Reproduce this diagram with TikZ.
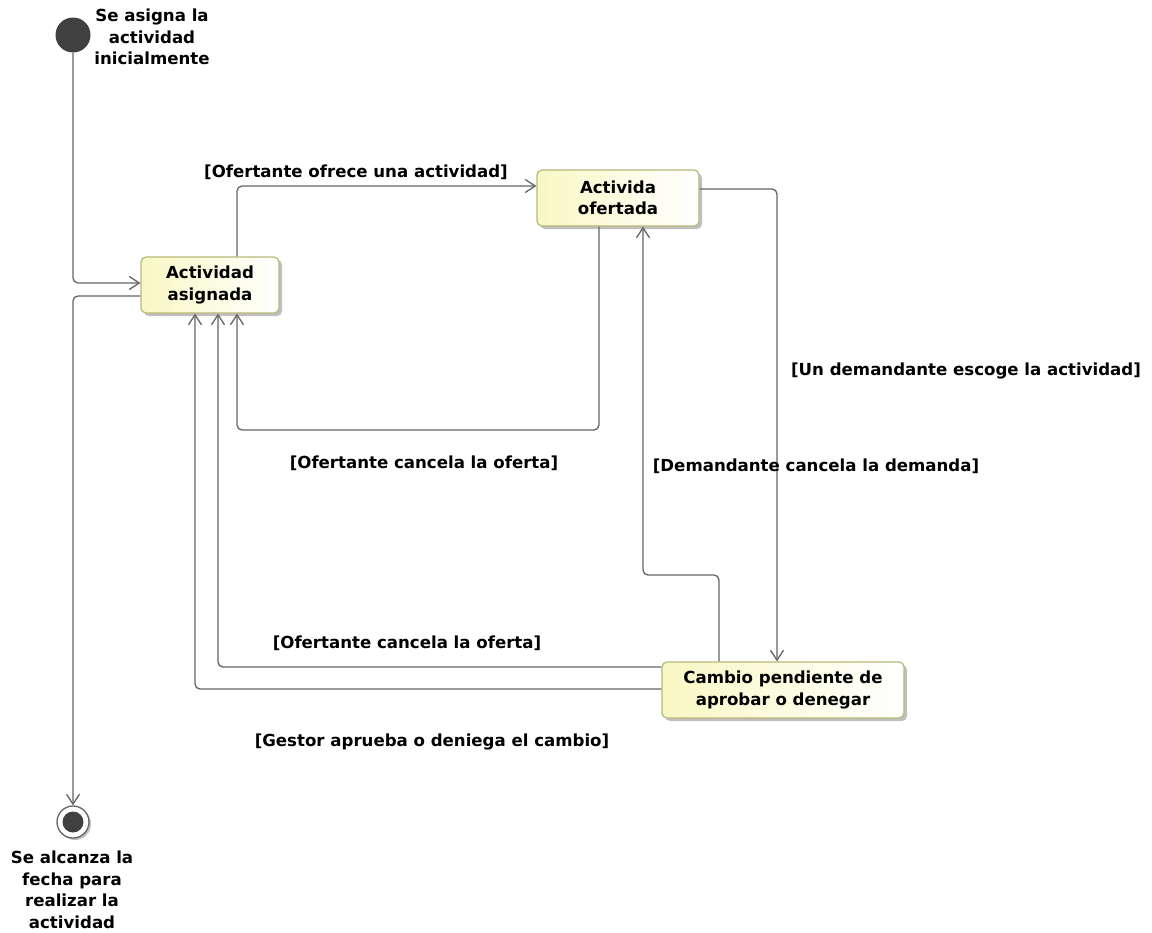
\documentclass[tikz,border=0pt]{standalone}
\usepackage{fontspec}
\setmainfont{DejaVu Sans}
\usetikzlibrary{arrows.meta,shadows}
\definecolor{edgegray}{RGB}{100,100,100}
\definecolor{boxfill}{RGB}{248,248,196}
\definecolor{boxline}{RGB}{184,184,120}
\definecolor{pseudo}{RGB}{64,64,64}
\begin{document}
\begin{tikzpicture}[x=1bp,y=-1bp,
  lbl/.style={font=\fontsize{16.6bp}{21.5bp}\selectfont\bfseries, inner sep=0pt, align=center, text=black},
  statebox/.style={lbl, draw=boxline, line width=1.2bp, rounded corners=5bp,
    left color=boxfill, right color=white,
    drop shadow={shadow xshift=3bp, shadow yshift=-3bp, opacity=0.25, fill=black},
    minimum height=56bp},
  trans/.style={draw=edgegray, line width=1.3bp, rounded corners=5bp,
    -{Straight Barb[length=10bp,width=13bp]}},
]
\useasboundingbox (0,0) rectangle (1152,933);

% states
\node[circle, fill=pseudo, minimum size=35bp, inner sep=0pt] (init) at (73,35) {};
\node[statebox, minimum width=138bp] (asig) at (210,285) {Actividad\\asignada};
\node[statebox, minimum width=162bp] (ofer) at (618,198) {Activida\\ofertada};
\node[statebox, minimum width=242bp] (camb) at (783,690) {Cambio pendiente de\\aprobar o denegar};
\node[circle, draw=edgegray, line width=1.3bp, fill=white, minimum size=32bp, inner sep=0pt,
  drop shadow={shadow xshift=2bp, shadow yshift=-2bp, opacity=0.25, fill=black}] (final) at (73,822) {};
\node[circle, fill=pseudo, minimum size=21bp, inner sep=0pt] (finalin) at (final.center) {};

% transitions
\draw[trans] (init.south) |- ([yshift=2bp]asig.west);
\draw[trans] ([yshift=-11bp]asig.west) -| (final.north);
\draw[trans] ([xshift=27bp]asig.north) |- ([yshift=12bp]ofer.west);
\draw[trans] ([yshift=9bp]ofer.east) -| ([xshift=-6bp]camb.north);
\draw[trans] ([xshift=-19bp]ofer.south) -- (599,430) -- (237,430) -- ([xshift=27bp]asig.south);
\draw[trans] ([xshift=-64bp]camb.north) -- (719,575) -- (643,575) -- ([xshift=25bp]ofer.south);
\draw[trans] ([yshift=23bp]camb.west) -| ([xshift=8bp]asig.south);
\draw[trans] ([yshift=1bp]camb.west) -| ([xshift=-15bp]asig.south);

% texts
\node[lbl] (tinit) at (152,37) {Se asigna la\\actividad\\inicialmente};
\node[lbl] (tfinal) at (72,890) {Se alcanza la\\fecha para\\realizar la\\actividad};
\node[lbl] (g1) at (356,172) {[Ofertante ofrece una actividad]};
\node[lbl] (g2) at (966,371) {[Un demandante escoge la actividad]};
\node[lbl] (g3) at (424,463) {[Ofertante cancela la oferta]};
\node[lbl] (g4) at (816,466) {[Demandante cancela la demanda]};
\node[lbl] (g5) at (407,643) {[Ofertante cancela la oferta]};
\node[lbl] (g6) at (432,742) {[Gestor aprueba o deniega el cambio]};
\end{tikzpicture}
\end{document}
